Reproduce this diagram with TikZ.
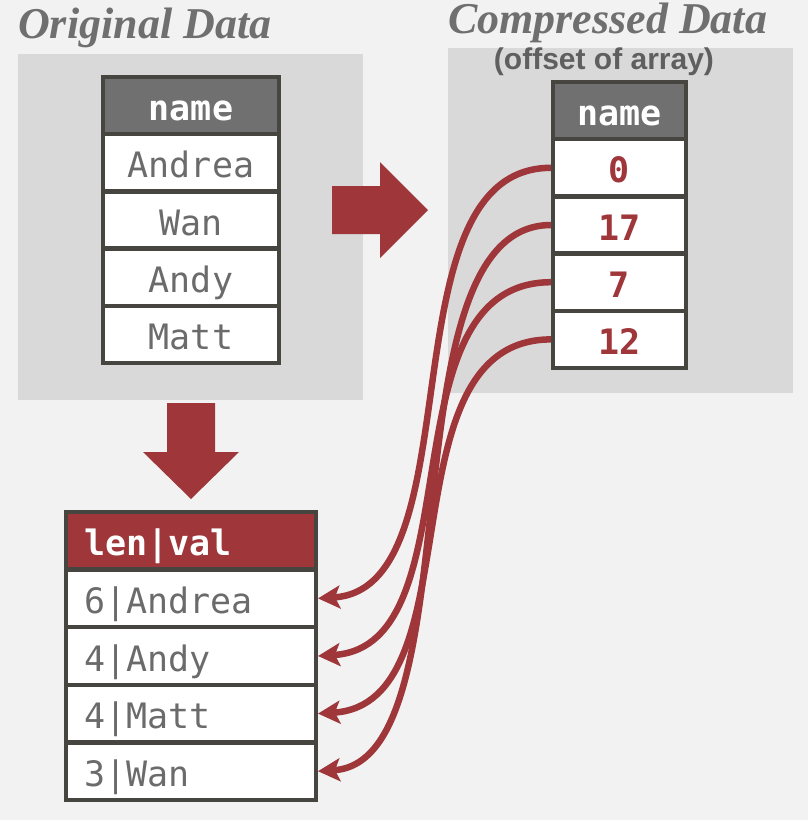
\documentclass[tikz,border=0pt]{standalone}
\usepackage{fontspec}
\setmainfont{Liberation Serif}
\setsansfont{Liberation Sans}
\setmonofont{DejaVu Sans Mono}
\usetikzlibrary{positioning,arrows.meta}
\definecolor{bggray}{HTML}{F2F2F2}
\definecolor{panelgray}{HTML}{D9D9D9}
\definecolor{edgegray}{HTML}{47453F}
\definecolor{headgray}{HTML}{707070}
\definecolor{textgray}{HTML}{6B6B6B}
\definecolor{titlegray}{HTML}{6F6F6F}
\definecolor{notegray}{HTML}{5F5F5F}
\definecolor{dbred}{HTML}{9E363A}

\begin{document}
\begin{tikzpicture}[x=1pt, y=-1pt,
  cell/.style={draw=edgegray, line width=4.5pt, fill=white, outer sep=0pt, inner sep=0pt,
    minimum height=57.2pt, text height=30pt, text depth=0pt, text=textgray,
    font=\ttfamily\fontsize{35}{35}\selectfont},
  head/.style={cell, fill=headgray, text=white, font=\ttfamily\bfseries\fontsize{35}{35}\selectfont},
  offset/.style={cell, text=dbred, font=\ttfamily\bfseries\fontsize{35}{35}\selectfont},
  lencell/.style={cell, minimum height=57.6pt, inner xsep=18pt, text width=214pt, align=left},
  title/.style={anchor=base west, inner sep=0pt, text=titlegray,
    font=\bfseries\itshape\fontsize{44}{44}\selectfont},
  link/.style={draw=dbred, line width=6.5pt, -{Stealth[length=22pt,width=23pt,inset=5pt]}}]
  \fill[bggray] (0,0) rectangle (808,820);
  \useasboundingbox (0,0) rectangle (808,820);

  \fill[panelgray] (18,54) rectangle (363,400);
  \fill[panelgray] (448,48) rectangle (793,393);
  \node[title] (origtitle) at (18,38) {Original Data};
  \node[title] (comptitle) at (448,33) {Compressed Data};
  \node[anchor=base, inner sep=0pt, text=notegray,
    font=\sffamily\bfseries\fontsize{30}{30}\selectfont] (offsetnote) at (604,69) {(offset of array)};

  \node[head, minimum width=176pt] (o0) at (191,105.6) {name};
  \node[cell, minimum width=176pt, below=0pt of o0] (o1) {Andrea};
  \node[cell, minimum width=176pt, below=0pt of o1] (o2) {Wan};
  \node[cell, minimum width=176pt, below=0pt of o2] (o3) {Andy};
  \node[cell, minimum width=176pt, below=0pt of o3] (o4) {Matt};

  \node[head, minimum width=133pt] (c0) at (619.5,110.6) {name};
  \node[offset, minimum width=133pt, below=0pt of c0] (c1) {0};
  \node[offset, minimum width=133pt, below=0pt of c1] (c2) {17};
  \node[offset, minimum width=133pt, below=0pt of c2] (c3) {7};
  \node[offset, minimum width=133pt, below=0pt of c3] (c4) {12};

  \node[lencell, fill=dbred, text=white,
    font=\ttfamily\bfseries\fontsize{35}{35}\selectfont] (b0) at (191,540.8) {len|val};
  \node[lencell, below=0pt of b0] (b1) {6|Andrea};
  \node[lencell, below=0pt of b1] (b2) {4|Andy};
  \node[lencell, below=0pt of b2] (b3) {4|Matt};
  \node[lencell, below=0pt of b3] (b4) {3|Wan};

  \fill[dbred] (332,186) -- (380,186) -- (380,162) -- (428,210) -- (380,258) -- (380,234) -- (332,234) -- cycle;
  \fill[dbred] (167,403) -- (215,403) -- (215,452) -- (239,452) -- (191,499) -- (143,452) -- (167,452) -- cycle;

  \foreach \from/\to in {c1/b1, c2/b4, c3/b2, c4/b3}
    \draw[link] ([xshift=-2pt]\from.west) .. controls +(-170,0) and +(160,-10) .. ([xshift=2pt]\to.east);
\end{tikzpicture}
\end{document}
